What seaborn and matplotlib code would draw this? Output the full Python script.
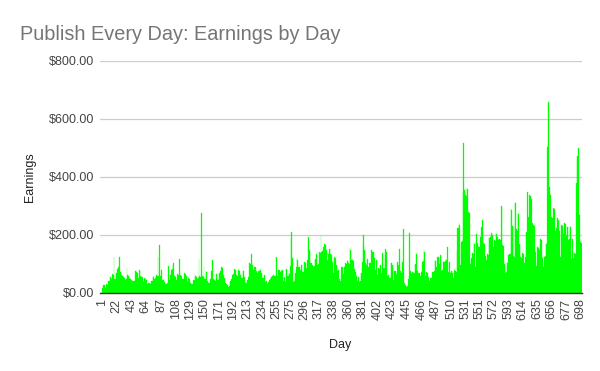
import matplotlib
matplotlib.use("Agg")
import matplotlib.pyplot as plt
import seaborn as sns
import numpy as np
import pandas as pd

# daily earnings in dollars in blocks of ~72 days
earn_001_068 = [18, 22, 27, 29, 21, 17, 30, 26, 38, 43, 41, 52, 55, 50, 60, 64, 61, 123,
                47, 50, 66, 70, 84, 88, 82, 123, 73, 70, 62, 59, 61, 55, 52, 46, 44, 47,
                85, 63, 60, 56, 53, 49, 46, 38, 40, 42, 40, 43, 75, 78, 73, 70, 55, 52,
                80, 77, 57, 54, 56, 40, 37, 52, 49, 48, 45, 34, 31, 33]
earn_069_141 = [33, 35, 32, 40, 42, 41, 57, 55, 50, 52, 59, 61, 60, 125, 58, 165, 55, 57,
                79, 44, 46, 45, 40, 38, 30, 32, 31, 35, 93, 46, 44, 61, 63, 80, 84, 98,
                102, 57, 55, 56, 44, 46, 65, 62, 116, 70, 62, 60, 48, 47, 50, 48, 68, 66,
                60, 57, 39, 41, 52, 50, 33, 35, 32, 30, 29, 45, 44, 62, 60, 54, 55, 50, 52]
earn_142_213 = [117, 60, 56, 54, 275, 57, 55, 88, 49, 50, 77, 74, 43, 42, 33, 34, 45, 47,
                76, 72, 114, 48, 46, 39, 40, 64, 62, 45, 46, 70, 68, 77, 75, 88, 86, 64,
                62, 51, 49, 33, 31, 28, 27, 22, 24, 39, 41, 47, 48, 62, 64, 61, 82, 80,
                62, 63, 59, 58, 79, 77, 62, 64, 53, 52, 79, 76, 56, 55, 33, 34, 45, 46]
earn_214_286 = [56, 58, 102, 100, 134, 102, 98, 79, 81, 91, 89, 74, 76, 70, 72, 77, 75, 83,
                80, 68, 66, 51, 53, 62, 60, 39, 41, 28, 30, 37, 35, 45, 47, 54, 55, 60,
                58, 61, 59, 57, 60, 123, 59, 58, 79, 78, 74, 72, 75, 79, 80, 41, 56, 54,
                38, 83, 82, 59, 60, 68, 66, 94, 185, 211, 120, 45, 39, 41, 68, 70, 88,
                119, 115]
earn_287_359 = [91, 88, 79, 81, 97, 95, 74, 72, 56, 108, 105, 85, 87, 114, 110, 192, 148,
                140, 102, 104, 97, 95, 91, 93, 114, 116, 134, 130, 97, 99, 91, 142, 138,
                198, 142, 145, 160, 158, 169, 165, 148, 150, 114, 137, 135, 151, 153, 134,
                132, 105, 108, 68, 70, 123, 120, 97, 95, 77, 79, 45, 47, 41, 43, 91, 89,
                65, 67, 91, 93, 102, 100, 111, 113]
earn_360_431 = [102, 100, 154, 150, 114, 116, 114, 112, 85, 83, 74, 60, 58, 41, 56, 54, 39,
                40, 68, 70, 108, 169, 200, 148, 145, 102, 98, 114, 116, 91, 88, 102, 105,
                148, 150, 142, 140, 125, 122, 79, 77, 114, 62, 64, 85, 83, 97, 95, 68, 66,
                137, 85, 87, 119, 151, 140, 56, 58, 62, 60, 51, 53, 102, 104, 97, 95, 45,
                77, 75, 62, 64, 108]
earn_432_504 = [97, 95, 151, 79, 77, 68, 66, 108, 221, 33, 35, 28, 26, 22, 24, 47, 60, 206,
                75, 65, 67, 74, 72, 68, 70, 97, 99, 134, 79, 77, 70, 68, 59, 59, 74, 76,
                108, 110, 151, 140, 59, 61, 71, 69, 56, 54, 41, 43, 51, 53, 74, 72, 74,
                76, 114, 112, 91, 89, 125, 123, 102, 100, 131, 128, 76, 78, 108, 106, 108,
                110, 116, 114, 160]
earn_505_577 = [74, 72, 108, 74, 70, 77, 75, 68, 51, 53, 79, 77, 74, 148, 223, 225, 240, 236,
                97, 95, 177, 180, 349, 518, 355, 350, 338, 335, 363, 360, 280, 275, 102,
                100, 120, 118, 137, 135, 171, 168, 88, 90, 202, 171, 168, 160, 158, 194,
                190, 229, 251, 210, 171, 168, 131, 128, 114, 116, 134, 130, 192, 188, 192,
                195, 206, 200, 160, 158, 183, 180, 206, 202, 194]
earn_578_649 = [185, 183, 186, 184, 182, 301, 298, 165, 162, 100, 98, 70, 72, 108, 105, 131,
                128, 135, 133, 290, 285, 231, 228, 128, 125, 315, 310, 219, 215, 277, 272,
                169, 165, 125, 122, 97, 139, 136, 102, 105, 125, 206, 210, 347, 263, 258,
                338, 335, 329, 325, 240, 236, 234, 230, 146, 142, 93, 95, 157, 154, 146,
                148, 185, 182, 125, 122, 91, 93, 125, 128, 174, 170]
earn_650_700 = [504, 518, 660, 367, 341, 338, 263, 258, 200, 294, 290, 217, 214, 225, 222,
                257, 252, 217, 213, 125, 128, 234, 230, 206, 203, 242, 238, 203, 200, 229,
                226, 183, 186, 231, 228, 116, 188, 185, 120, 122, 139, 136, 378, 467, 472,
                501, 272, 268, 177, 174, 174]

earnings = (earn_001_068 + earn_069_141 + earn_142_213 + earn_214_286 + earn_287_359
            + earn_360_431 + earn_432_504 + earn_505_577 + earn_578_649 + earn_650_700)
days = list(range(1, len(earnings) + 1))

tick_days = [1, 22, 43, 64, 87, 108, 129, 150, 171, 192, 213, 234, 255, 275, 296, 317, 338,
             360, 381, 402, 423, 445, 466, 487, 510, 531, 551, 572, 593, 614, 635, 656, 677, 698]
y_ticks = [0, 200, 400, 600, 800]

df = pd.DataFrame({"Day": days, "Earnings": earnings})

sns.set_style("white")
plt.rcParams["font.family"] = ["Liberation Sans", "DejaVu Sans"]

fig = plt.figure(figsize=(6.0, 3.71), dpi=100)
ax = fig.add_axes([100 / 600, 1 - 293 / 371, 482 / 600, 232 / 371])

sns.barplot(data=df, x="Day", y="Earnings", native_scale=True, errorbar=None,
            color="#00ff00", saturation=1, width=1.0, edgecolor="#00ff00",
            linewidth=0.2, ax=ax, zorder=2)

ax.set_xlim(-2.5, len(earnings) + 0.5)
ax.set_ylim(0, 800)
ax.set_yticks(y_ticks)
ax.set_yticklabels([f"${v:,.2f}" for v in y_ticks])
ax.set_xticks(tick_days)
ax.set_xticklabels([str(d) for d in tick_days], rotation=90)
ax.tick_params(axis="both", length=0, labelsize=9, labelcolor="#444444")
ax.tick_params(axis="y", pad=4)
ax.tick_params(axis="x", pad=4)

ax.yaxis.grid(True, color="#cccccc", linewidth=0.9, zorder=0)
ax.set_axisbelow(True)
for side in ["top", "right", "left"]:
    ax.spines[side].set_visible(False)
ax.spines["bottom"].set_color("#333333")
ax.spines["bottom"].set_linewidth(1.0)
ax.spines["bottom"].set_zorder(3)
ax.set_xlabel("")
ax.set_ylabel("")

fig.text(20 / 600, 1 - 34 / 371, "Publish Every Day: Earnings by Day", fontsize=14.3,
         color="#757575", va="center", ha="left")
fig.text(30 / 600, 1 - 177 / 371, "Earnings", rotation=90, fontsize=9, color="#222222",
         va="center", ha="center")
fig.text(340 / 600, 1 - 345 / 371, "Day", fontsize=9, color="#222222",
         va="center", ha="center")

fig.savefig("out.png", dpi=100, facecolor="white")
